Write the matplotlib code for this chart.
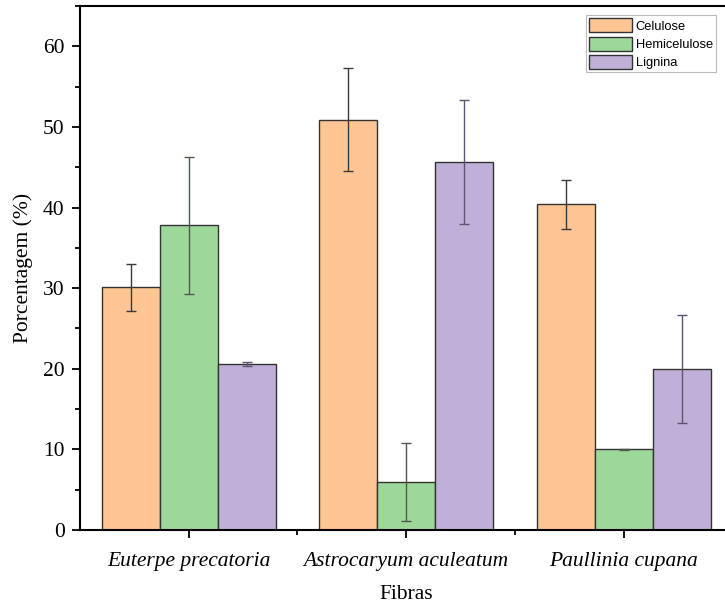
import numpy as np
import matplotlib.pyplot as plt
from matplotlib.ticker import MultipleLocator, FixedLocator

# Composição química das fibras
fibras = ['Euterpe precatoria', 'Astrocaryum aculeatum', 'Paullinia cupana']
componentes = ['Celulose', 'Hemicelulose', 'Lignina']

celulose = [30.1, 50.9, 40.4]
celulose_err = [2.9, 6.4, 3.05]
hemicelulose = [37.8, 6.0, 10.0]
hemicelulose_err = [8.5, 4.85, 0.1]
lignina = [20.6, 45.7, 20.0]
lignina_err = [0.3, 7.7, 6.7]

valores = [celulose, hemicelulose, lignina]
erros = [celulose_err, hemicelulose_err, lignina_err]
cores = ['#FDC594', '#9ED79A', '#C0B0D8']
cores_erro = ['#3a3a3a', '#4d5a4d', '#5e5472']

plt.rcParams['font.family'] = ['Liberation Serif', 'DejaVu Serif']

fig = plt.figure(figsize=(7.25, 6.07), dpi=100)
ax = fig.add_axes([0.1103, 0.1269, 0.9, 0.8631])

x = np.arange(1, len(fibras) + 1)
largura = 0.8 / 3

for i, (vals, errs) in enumerate(zip(valores, erros)):
    ax.bar(x + (i - 1) * largura, vals, largura, color=cores[i],
           edgecolor='#333333', linewidth=1.0, label=componentes[i],
           yerr=errs, error_kw=dict(ecolor=cores_erro[i], elinewidth=1.0,
                                    capsize=3.5, capthick=1.0))

ax.set_xlim(0.5, 3.5)
ax.set_ylim(0, 65)

ax.set_xticks(x)
ax.set_xticklabels(fibras, fontstyle='italic', fontsize=15.5)
ax.xaxis.set_minor_locator(FixedLocator([1.5, 2.5]))
ax.yaxis.set_major_locator(MultipleLocator(10))
ax.yaxis.set_minor_locator(MultipleLocator(5))
ax.tick_params(axis='both', which='major', direction='out', length=6,
               width=1.3, labelsize=15.5)
ax.tick_params(axis='both', which='minor', direction='out', length=3.5,
               width=1.3)
ax.tick_params(axis='x', pad=10)
ax.tick_params(axis='y', pad=5)

for s in ax.spines.values():
    s.set_linewidth(1.5)

ax.set_xlabel('Fibras', fontsize=15.5, labelpad=10)
ax.set_ylabel('Porcentagem (%)', fontsize=15.5, labelpad=7)

leg = ax.legend(loc='upper right', bbox_to_anchor=(0.981, 0.99),
                prop={'family': 'Liberation Sans', 'size': 9.3},
                fancybox=False, edgecolor='#bbbbbb', framealpha=1,
                handlelength=3.3, handleheight=1.3, handletextpad=0.3,
                labelspacing=0.3, borderpad=0.25, borderaxespad=0.3)
leg.get_frame().set_linewidth(0.8)

fig.savefig('out.png', dpi=100)
